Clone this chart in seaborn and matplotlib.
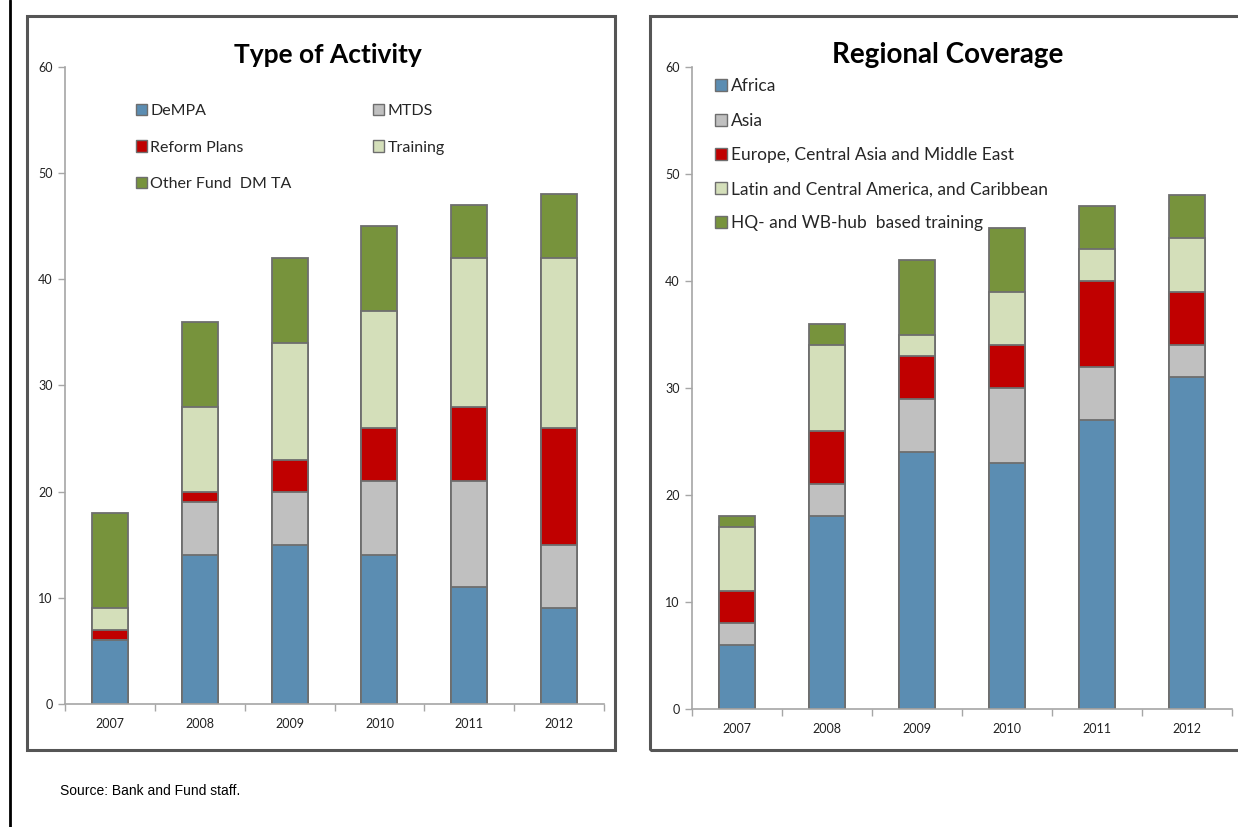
import matplotlib
matplotlib.use("Agg")
import matplotlib.pyplot as plt
from matplotlib.patches import Rectangle, Patch
from matplotlib.lines import Line2D
import numpy as np
import pandas as pd
import seaborn as sns

years = ["2007", "2008", "2009", "2010", "2011", "2012"]

# Type of Activity
act_labels = ["DeMPA", "MTDS", "Reform Plans", "Training", "Other Fund  DM TA"]
dempa = [6, 14, 15, 14, 11, 9]
mtds = [0, 5, 5, 7, 10, 6]
reform = [1, 1, 3, 5, 7, 11]
training = [2, 8, 11, 11, 14, 16]
other_ta = [9, 8, 8, 8, 5, 6]

# Regional Coverage
reg_labels = ["Africa", "Asia", "Europe, Central Asia and Middle East",
              "Latin and Central America, and Caribbean", "HQ- and WB-hub  based training"]
africa = [6, 18, 24, 23, 27, 31]
asia = [2, 3, 5, 7, 5, 3]
europe = [3, 5, 4, 4, 8, 5]
latin = [6, 8, 2, 5, 3, 5]
hq = [1, 2, 7, 6, 4, 4]

colors = ["#5B8DB2", "#C0C0C0", "#C00000", "#D4DFBA", "#77933C"]
edge = "#6E6E6E"

sns.set_theme(style="white")
plt.rcParams["font.family"] = ["Lato", "DejaVu Sans"]

W, H = 1238, 827
fig = plt.figure(figsize=(W / 100, H / 100), dpi=100)


def fx(px):
    return px / W


def fy(py):
    return 1 - py / H


# outer left border line
fig.add_artist(Line2D([fx(10), fx(10)], [0, 1], color="black", lw=2))

# panel boxes
for (x0, x1) in [(27, 615), (650, 1245)]:
    fig.add_artist(Rectangle((fx(x0), fy(750)), fx(x1 - x0), (750 - 16) / H,
                             fill=False, edgecolor="#555555", lw=2.2))


def stacked(ax, series, labels, order, ncol, leg_anchor, leg_spacing, fs, colsp):
    df = pd.DataFrame({"year": years})
    cum = np.zeros(len(years))
    cums = []
    for s in series:
        cum = cum + np.array(s)
        cums.append(cum.copy())
    for i in range(len(series) - 1, -1, -1):
        df["v"] = cums[i]
        sns.barplot(data=df, x="year", y="v", color=colors[i], ax=ax,
                    width=0.4, edgecolor=edge, linewidth=1.3, saturation=1)
    ax.set_ylim(0, 60)
    ax.set_xlim(-0.5, 5.5)
    ax.set_yticks([0, 10, 20, 30, 40, 50, 60])
    ax.set_xlabel("")
    ax.set_ylabel("")
    for sp in ["top", "right"]:
        ax.spines[sp].set_visible(False)
    for sp in ["left", "bottom"]:
        ax.spines[sp].set_color("#A6A6A6")
        ax.spines[sp].set_linewidth(1.2)
    ax.set_xticks(np.arange(-0.5, 6, 1))
    ax.set_xticklabels([])
    ax.set_xticks(np.arange(6), minor=True)
    ax.set_xticklabels(years, minor=True)
    ax.tick_params(axis="x", which="major", length=5, color="#A6A6A6", width=1, direction="out", bottom=True)
    ax.tick_params(axis="x", which="minor", length=0, labelsize=9, colors="#222222", pad=10)
    ax.tick_params(axis="y", length=5, color="#A6A6A6", width=1, direction="out", left=True,
                   labelsize=9, labelcolor="#222222", pad=4)
    handles = [Patch(facecolor=colors[i], edgecolor=edge, lw=1) for i in order]
    labs = [labels[i] for i in order]
    ax.legend(handles, labs, ncol=ncol, loc="upper left", bbox_to_anchor=leg_anchor,
              frameon=False, fontsize=fs, handlelength=0.7, handleheight=0.7,
              handletextpad=0.2, labelspacing=leg_spacing, columnspacing=colsp,
              borderaxespad=0)


axL = fig.add_axes([fx(65), fy(704), fx(604 - 65), (704 - 67) / H])
stacked(axL, [dempa, mtds, reform, training, other_ta], act_labels, [0, 2, 4, 1, 3], 2,
        (0.120, 0.952), 1.39, 11.5, 5.1)
axR = fig.add_axes([fx(692), fy(709), fx(1232 - 692), (709 - 67) / H])
stacked(axR, [africa, asia, europe, latin, hq], reg_labels, [0, 1, 2, 3, 4], 1,
        (0.03, 0.993), 1.05, 12.5, 1.0)

fig.text(fx(328), fy(55), "Type of Activity", ha="center", va="center",
         fontsize=19, fontweight="bold", color="black")
fig.text(fx(948), fy(55), "Regional Coverage", ha="center", va="center",
         fontsize=20, fontweight="bold", color="black")

fig.text(fx(60), fy(791), "Source: Bank and Fund staff.", ha="left", va="center",
         fontsize=10, family=["Liberation Sans", "DejaVu Sans"], color="black")

fig.savefig("out.png", dpi=100)
